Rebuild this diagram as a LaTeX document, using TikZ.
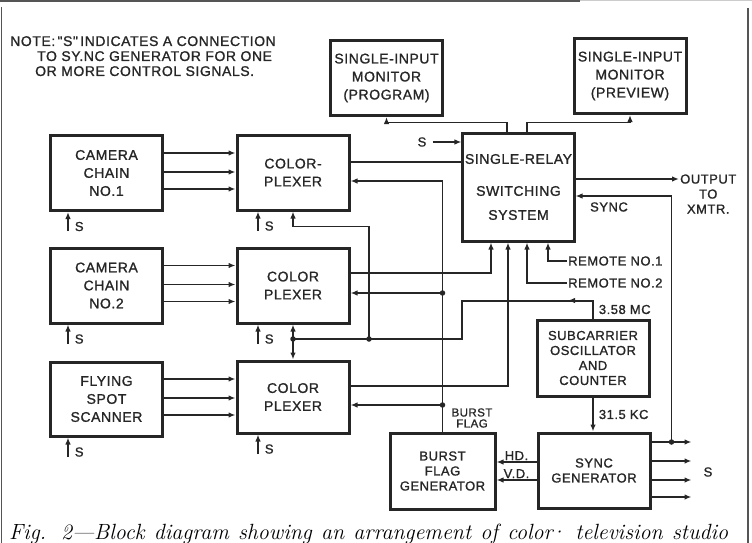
\documentclass[tikz,border=0pt]{standalone}
\usepackage{fontspec}
\usepackage{tikz}
\usetikzlibrary{arrows.meta,positioning,calc}
\newfontfamily\lettering[LetterSpace=4,FakeBold=1.2]{Liberation Sans}
\definecolor{Ink}{HTML}{262626}
\definecolor{Rule}{HTML}{555555}

\begin{document}
\begin{tikzpicture}[x=1pt,y=-1pt,
    blk/.style={draw=Ink,line width=3pt,minimum width=112pt,minimum height=75pt,align=center,inner sep=2pt,text=Ink,font=\lettering\fontsize{14}{18}\selectfont},
    sm/.style={font=\lettering\fontsize{13}{15}\selectfont},
    lbl/.style={inner sep=1pt,text=Ink,font=\lettering\fontsize{13}{15}\selectfont},
    a/.style={-{Latex[length=7pt,width=5.5pt]},line width=1.8pt,draw=Ink},
    w/.style={line width=1.8pt,draw=Ink},
    dot/.style={circle,fill=Ink,inner sep=0pt,minimum size=5.5pt}]
    \useasboundingbox (0,0) rectangle (752,543);
    % page frame
    \draw[line width=2pt,Rule] (0,1) -- (580,1);
    \draw[line width=1pt,black!20] (580,1) -- (752,1);
    \draw[line width=1.6pt,Rule] (1.5,7) -- (1.5,543);
    \draw[line width=1.6pt,Rule] (748,8) -- (748,543);

    \node[lbl,anchor=north west,align=left,font=\lettering\fontsize{14}{15}\selectfont] (note) at (9,35) {NOTE:\,"S"\,INDICATES A CONNECTION\\\hspace*{27pt}TO SY.NC GENERATOR FOR ONE\\\hspace*{25pt}OR MORE CONTROL SIGNALS.};

    % blocks
    \node[blk] (prog) at (386.5,78) {SINGLE-INPUT\\MONITOR\\(PROGRAM)};
    \node[blk] (prev) at (630,76) {SINGLE-INPUT\\MONITOR\\(PREVIEW)};
    \node[blk,minimum width=111pt,minimum height=108pt] (sw) at (518.5,187) {SINGLE-RELAY\\[14pt]SWITCHING\\[6pt]SYSTEM};
    \node[blk] (cam1) at (106.5,173) {CAMERA\\CHAIN\\NO.1};
    \node[blk] (cp1) at (293,172.5) {COLOR-\\PLEXER};
    \node[blk] (cam2) at (106.5,285.5) {CAMERA\\CHAIN\\NO.2};
    \node[blk] (cp2) at (293,285.5) {COLOR\\PLEXER};
    \node[blk,minimum height=74pt] (fss) at (106.5,399) {FLYING\\SPOT\\SCANNER};
    \node[blk,minimum height=72pt] (cp3) at (293,397) {COLOR\\PLEXER};
    \node[blk,sm,minimum height=76pt] (sub) at (593,358) {SUBCARRIER\\OSCILLATOR\\AND\\COUNTER};
    \node[blk,sm,minimum width=105pt,minimum height=76pt] (bfg) at (442.5,471) {BURST\\FLAG\\GENERATOR};
    \node[blk,sm] (syn) at (594,470.5) {SYNC\\GENERATOR};

    % labels
    \node[lbl] (ssw) at (422,142) {S};
    \node[lbl,anchor=west,align=center] (xmtr) at (679,194) {OUTPUT\\TO\\XMTR.};
    \node[lbl] (synclbl) at (609,207) {SYNC};
    \node[lbl,anchor=west] (rem1) at (567,261) {REMOTE NO.1};
    \node[lbl,anchor=west] (rem2) at (567,283) {REMOTE NO.2};
    \node[lbl,align=center,inner sep=0pt,font=\lettering\fontsize{11.5}{11}\selectfont] (bflag) at (472,418) {BURST\\FLAG};
    \node[lbl] (ssync) at (708,472) {S};

    % cameras to colorplexers
    \foreach \src/\dst in {cam1/cp1,cam2/cp2,fss/cp3}
      \foreach \dy in {20,1,-16}
        \draw[a] ([yshift=\dy pt]\src.east) -- ([yshift=\dy pt]\src.east -| \dst.west);
    \foreach \b/\dx in {cam1/-38.5,cam2/-38.5,fss/-38.5,cp1/-35,cp2/-35,cp3/-35}
      \draw[a] ([xshift=\dx pt,yshift=-19pt]\b.south) node[lbl,anchor=base west,xshift=5pt]{S} -- ([xshift=\dx pt]\b.south);

    % switching system
    \draw[a] ([xshift=-11.5pt]sw.north) -- ++(0,-9) -| (prog.south);
    \draw[a] ([xshift=8.5pt]sw.north) -- ++(0,-9) -| (prev.south);
    \draw[a] ([xshift=5pt]ssw.east) -- (ssw.east -| sw.west);
    \draw[w] ([yshift=10.5pt]cp1.east) -- ([yshift=10.5pt]cp1.east -| sw.west);
    \draw[a] ([yshift=12.5pt]cp2.east) -| ([xshift=-27.5pt]sw.south);
    \draw[a] ([yshift=11pt]cp3.east) -| ([xshift=-10.5pt]sw.south);
    \draw[a] (rem1.west) -| ([xshift=29.5pt]sw.south);
    \draw[a] (rem2.west) -| ([xshift=8.5pt]sw.south);
    \draw[a] ([yshift=8pt]sw.east) -- ([yshift=8pt]sw.east -| xmtr.west);

    % sync generator
    \foreach \dy in {28.5,9.5,-9.5,-26.5}
      \draw[a] ([yshift=\dy pt]syn.east) -- ++(40,0);
    \draw[a] ([xshift=20pt,yshift=28.5pt]syn.east) |- ([yshift=-9pt]sw.east);
    \node[dot] at ([xshift=20pt,yshift=28.5pt]syn.east) {};
    \draw[a] ([yshift=8.5pt]syn.west) -- ([yshift=8.5pt]syn.west -| bfg.east) node[lbl,midway,above]{HD.};
    \draw[a] ([yshift=-9.5pt]syn.west) -- ([yshift=-9.5pt]syn.west -| bfg.east) node[lbl,midway,above]{V.D.};
    \draw[a] (sub.south) -- (sub.south |- syn.north) node[lbl,midway,right=4pt]{31.5 KC};

    % subcarrier to colorplexers
    \coordinate (jb) at (462,301);
    \coordinate (jc) at (cp2.south |- 0,339);
    \coordinate (jd) at (369,339);
    \draw[w] (sub.north) |- (jb) |- (jc);
    \draw[a] (sub.north) -- ++(0,-18) node[lbl,midway,right=4pt]{3.58 MC} -- ++(-25,0);
    \draw[a] (jc) -- (cp2.south);
    \draw[a] (jc) -- (cp3.north);
    \draw[a] (jd) |- ([yshift=-15pt]cp1.south) -- (cp1.south);
    \node[dot] at (jc) {}; \node[dot] at (jd) {};

    % burst flag
    \draw[a] (bfg.north) |- ([yshift=-8.5pt]cp1.east);
    \draw[a] ([yshift=-7.5pt]cp2.east -| bfg.north) -- ([yshift=-7.5pt]cp2.east);
    \draw[a] ([yshift=-8pt]cp3.east -| bfg.north) -- ([yshift=-8pt]cp3.east);
    \node[dot] at ([yshift=-7.5pt]cp2.east -| bfg.north) {};
    \node[dot] at ([yshift=-8pt]cp3.east -| bfg.north) {};

    \node[anchor=base west,inner sep=0pt,font=\fontsize{22}{24}\selectfont\itshape] (caption) at (9,539) {\makebox[719pt][s]{Fig. 2---Block diagram showing an arrangement of color\kern-3pt· television studio}};
  \end{tikzpicture}
\end{document}
